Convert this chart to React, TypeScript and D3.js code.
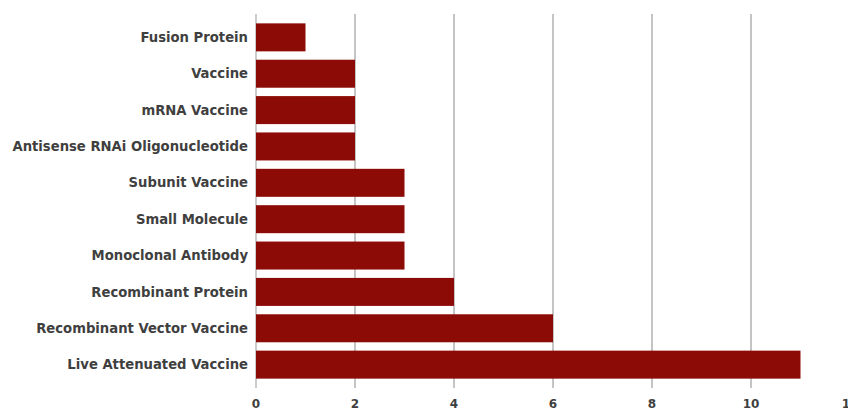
import React from "react";
import * as d3 from "d3";

const categories = [
  "Fusion Protein",
  "Vaccine",
  "mRNA Vaccine",
  "Antisense RNAi Oligonucleotide",
  "Subunit Vaccine",
  "Small Molecule",
  "Monoclonal Antibody",
  "Recombinant Protein",
  "Recombinant Vector Vaccine",
  "Live Attenuated Vaccine",
];
const counts = [1, 2, 2, 2, 3, 3, 3, 4, 6, 11];
const xTicks = [0, 2, 4, 6, 8, 10, 12];

const W = 848;
const H = 408;
const FONT = "'DejaVu Sans', sans-serif";

export default function App() {
  const x = d3.scaleLinear().domain([0, 12]).range([256, 850]);
  const y = d3
    .scaleBand<string>()
    .domain(categories)
    .range([15, 387])
    .paddingInner(0.23)
    .paddingOuter(0.23);

  return (
    <svg
      width={W}
      height={H}
      style={{ position: "absolute", left: 0, top: 0, overflow: "hidden", background: "#fff" }}
    >
      {xTicks.map((t) => (
        <line
          key={"g" + t}
          x1={x(t)}
          x2={x(t)}
          y1={14}
          y2={388}
          stroke={t === 0 ? "#999" : "#8a8a8a"}
          strokeWidth={1}
        />
      ))}
      {categories.map((c, i) => (
        <rect
          key={c}
          x={x(0)}
          y={y(c)!}
          width={x(counts[i]) - x(0)}
          height={y.bandwidth()}
          fill="#8c0b07"
        />
      ))}
      {categories.map((c) => (
        <text
          key={"l" + c}
          x={248}
          y={y(c)! + y.bandwidth() / 2}
          dy="0.35em"
          textAnchor="end"
          fontFamily={FONT}
          fontWeight="bold"
          fontSize={13.2}
          fill="#3f3f3f"
        >
          {c}
        </text>
      ))}
      {xTicks.map((t) => (
        <text
          key={"t" + t}
          x={x(t)}
          y={408}
          textAnchor="middle"
          fontFamily={FONT}
          fontWeight="bold"
          fontSize={12}
          fill="#3f3f3f"
        >
          {t}
        </text>
      ))}
    </svg>
  );
}
